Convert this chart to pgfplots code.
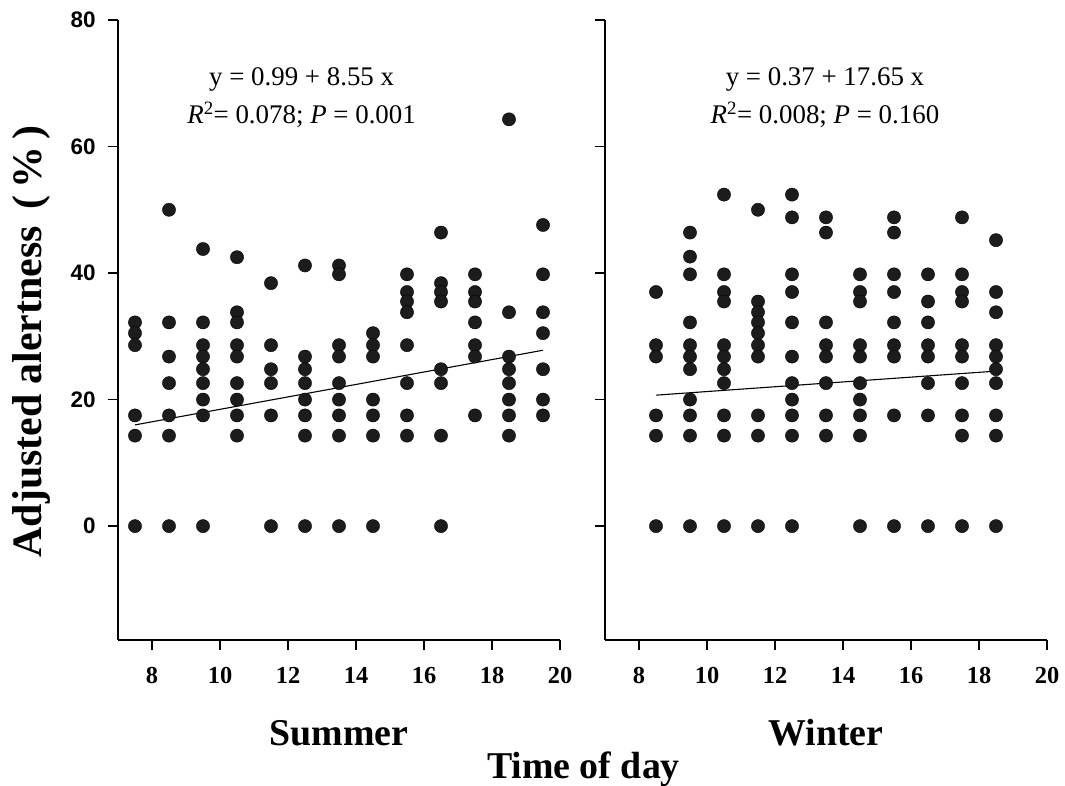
\documentclass[border=0pt]{standalone}
\usepackage{fontspec}
\setmainfont{Liberation Serif}
\newfontfamily\arialfont{Liberation Sans}
\usepackage{pgfplots}
\pgfplotsset{compat=1.18}
\usepackage{pgfplotstable}

\definecolor{dotc}{HTML}{1C1C1C}

% Summer: time of day vs adjusted alertness
\pgfplotstableread{
x y
7.5 32.2
7.5 30.5
7.5 28.6
7.5 17.5
7.5 14.3
7.5 0
8.5 50
8.5 32.2
8.5 26.8
8.5 22.6
8.5 17.5
8.5 14.3
8.5 0
9.5 43.8
9.5 32.2
9.5 28.6
9.5 26.8
9.5 24.8
9.5 22.6
9.5 20
9.5 17.5
9.5 0
10.5 42.5
10.5 33.8
10.5 32.2
10.5 28.6
10.5 26.8
10.5 22.6
10.5 20
10.5 17.5
10.5 14.3
11.5 38.4
11.5 28.6
11.5 24.8
11.5 22.6
11.5 17.5
11.5 0
12.5 41.2
12.5 26.8
12.5 24.8
12.5 22.6
12.5 20
12.5 17.5
12.5 14.3
12.5 0
13.5 41.2
13.5 39.8
13.5 28.6
13.5 26.8
13.5 22.6
13.5 20
13.5 17.5
13.5 14.3
13.5 0
14.5 30.5
14.5 28.6
14.5 26.8
14.5 20
14.5 17.5
14.5 14.3
14.5 0
15.5 39.8
15.5 37
15.5 35.5
15.5 33.8
15.5 28.6
15.5 22.6
15.5 17.5
15.5 14.3
16.5 46.4
16.5 38.4
16.5 37
16.5 35.5
16.5 24.8
16.5 22.6
16.5 14.3
16.5 0
17.5 39.8
17.5 37
17.5 35.5
17.5 32.2
17.5 28.6
17.5 26.8
17.5 17.5
18.5 64.3
18.5 33.8
18.5 26.8
18.5 24.8
18.5 22.6
18.5 20
18.5 17.5
18.5 14.3
19.5 47.6
19.5 39.8
19.5 33.8
19.5 30.5
19.5 24.8
19.5 20
19.5 17.5
}\summer

% Winter
\pgfplotstableread{
x y
8.5 37
8.5 28.6
8.5 26.8
8.5 17.5
8.5 14.3
8.5 0
9.5 46.4
9.5 42.6
9.5 39.8
9.5 32.2
9.5 28.6
9.5 26.8
9.5 24.8
9.5 20
9.5 17.5
9.5 14.3
9.5 0
10.5 52.4
10.5 39.8
10.5 37
10.5 35.5
10.5 28.6
10.5 26.8
10.5 24.8
10.5 22.6
10.5 17.5
10.5 14.3
10.5 0
11.5 50
11.5 35.5
11.5 33.8
11.5 32.2
11.5 30.5
11.5 28.6
11.5 26.8
11.5 17.5
11.5 14.3
11.5 0
12.5 52.4
12.5 48.8
12.5 39.8
12.5 37
12.5 32.2
12.5 26.8
12.5 22.6
12.5 20
12.5 17.5
12.5 14.3
12.5 0
13.5 48.8
13.5 46.4
13.5 32.2
13.5 28.6
13.5 26.8
13.5 22.6
13.5 17.5
13.5 14.3
14.5 39.8
14.5 37
14.5 35.5
14.5 28.6
14.5 26.8
14.5 22.6
14.5 20
14.5 17.5
14.5 14.3
14.5 0
15.5 48.8
15.5 46.4
15.5 39.8
15.5 37
15.5 32.2
15.5 28.6
15.5 26.8
15.5 17.5
15.5 0
16.5 39.8
16.5 35.5
16.5 32.2
16.5 28.6
16.5 26.8
16.5 22.6
16.5 17.5
16.5 0
17.5 48.8
17.5 39.8
17.5 37
17.5 35.5
17.5 28.6
17.5 26.8
17.5 22.6
17.5 17.5
17.5 14.3
17.5 0
18.5 45.2
18.5 37
18.5 33.8
18.5 28.6
18.5 26.8
18.5 24.8
18.5 22.6
18.5 17.5
18.5 14.3
18.5 0
}\winter

\tikzset{eqn/.style={font=\fontsize{27}{27}\selectfont, anchor=base}}

\pgfplotsset{
  panel/.style={
    scale only axis, width=442bp, height=620bp,
    xmin=7, xmax=20, ymin=-18, ymax=80,
    axis x line*=bottom, axis y line*=left,
    axis line style={line width=2.6bp},
    tick align=outside, major tick length=10bp,
    tick style={line width=1.4bp, black},
    xtick={8,10,...,20}, ytick={0,20,...,80},
    xticklabel style={font=\fontsize{24.5}{24.5}\selectfont\bfseries, yshift=-14bp},
    yticklabel style={font=\fontsize{22.5}{22.5}\selectfont\arialfont\bfseries, xshift=-9bp},
    /pgf/number format/assume math mode=true,
    clip=false,
    xlabel style={font=\fontsize{38}{38}\selectfont\bfseries,
      at={(axis description cs:0.5,0)}, anchor=base, yshift=-105bp},
  },
  dots/.style={only marks, mark=*, mark size=6.6bp,
    mark options={fill=dotc, draw=none}},
  fit/.style={line width=1.1bp, black, no marks},
}

\begin{document}
\begin{tikzpicture}
\useasboundingbox (0,0) rectangle (1065bp,786bp);

\begin{axis}[panel, at={(118bp,146bp)}, anchor=south west, xlabel={Summer}]
  \addplot[dots] table {\summer};
  \addplot[fit] coordinates {(7.5,16.0) (19.5,27.8)};
  \node[eqn] at (axis cs:12.4,69.7) {y = 0.99 + 8.55 x};
  \node[eqn] at (axis cs:12.4,63.7) {\textit{R}\textsuperscript{2}= 0.078; \textit{P} = 0.001};
\end{axis}

\begin{axis}[panel, at={(605bp,146bp)}, anchor=south west, xlabel={Winter},
  yticklabels={}]
  \addplot[dots] table {\winter};
  \addplot[fit] coordinates {(8.5,20.7) (18.5,24.5)};
  \node[eqn] at (axis cs:13.47,69.7) {y = 0.37 + 17.65 x};
  \node[eqn] at (axis cs:13.47,63.7) {\textit{R}\textsuperscript{2}= 0.008; \textit{P} = 0.160};
\end{axis}

\node[rotate=90, anchor=base, font=\fontsize{42}{42}\selectfont\bfseries]
  at (41bp,444.5bp) {Adjusted alertness\hspace{0.4em}(\,\%\,)};
\node[anchor=base, font=\fontsize{38}{38}\selectfont\bfseries]
  at (583.5bp,8bp) {Time of day};
\end{tikzpicture}
\end{document}
